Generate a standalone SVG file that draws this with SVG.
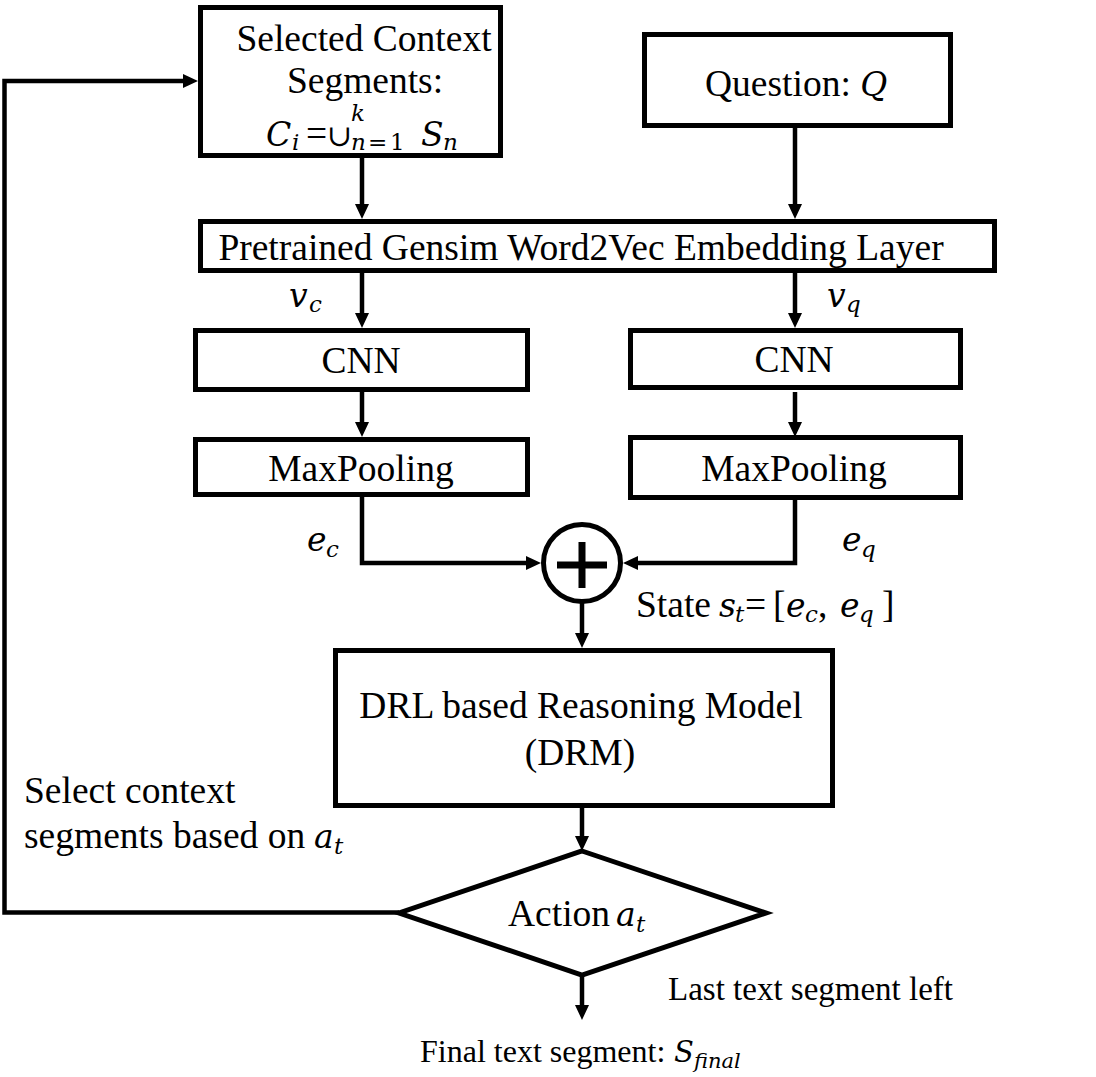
<svg xmlns="http://www.w3.org/2000/svg" width="1096" height="1077" viewBox="0 0 1096 1077">
<defs>
<marker id="ah" markerWidth="16" markerHeight="14" refX="7" refY="7" orient="auto" markerUnits="userSpaceOnUse" viewBox="0 0 16 14">
<path d="M0,0 L15,7 L0,14 z" fill="#000"/>
</marker>
<style>
.box{fill:#fff;stroke:#000;stroke-width:5}
.t{font-family:"Liberation Serif","Times New Roman",serif;font-size:37.5px;fill:#000}
.m{font-family:"DejaVu Serif","Liberation Serif",serif;font-style:italic;font-size:33px}
.s{font-family:"DejaVu Serif","Liberation Serif",serif;font-style:italic;font-size:23px}
.u{font-family:"DejaVu Serif","Liberation Serif",serif;font-size:23px}
.c{stroke:#000;stroke-width:4.5;fill:none}
</style>
</defs>
<rect width="1096" height="1077" fill="#fff"/>
<g id="connectors">
<path class="c" d="M362,158 V211" marker-end="url(#ah)"/>
<path class="c" d="M795,128 V211" marker-end="url(#ah)"/>
<path class="c" d="M362,273 V320" marker-end="url(#ah)"/>
<path class="c" d="M795,273 V320" marker-end="url(#ah)"/>
<path class="c" d="M362,392 V429" marker-end="url(#ah)"/>
<path class="c" d="M795,392 V429" marker-end="url(#ah)"/>
<path class="c" d="M362,497 V563 H533" marker-end="url(#ah)"/>
<path class="c" d="M795,497 V563 H631" marker-end="url(#ah)"/>
<path class="c" d="M582,602 V640" marker-end="url(#ah)"/>
<path class="c" d="M582,808 V843" marker-end="url(#ah)"/>
<path class="c" d="M582,975 V1012" marker-end="url(#ah)"/>
<path class="c" d="M399,912.5 H4.5 V81 H190" marker-end="url(#ah)"/>
</g>
<g id="n-context">
<rect class="box" x="200.5" y="7.5" width="300" height="148"/>
<text class="t" x="364" y="51" text-anchor="middle">Selected Context</text>
<text class="t" x="365" y="93" text-anchor="middle">Segments:</text>
<text class="t" y="146"><tspan class="m" x="266">C</tspan><tspan class="s" x="292" dy="4">i</tspan><tspan x="306" dy="-4">=</tspan><tspan class="u" x="327" style="font-size:30px">∪</tspan><tspan class="s" x="351" y="121">k</tspan><tspan class="s" x="351" y="150">n</tspan><tspan class="u" x="368">=</tspan><tspan class="u" x="390">1</tspan><tspan class="m" x="421" y="146">S</tspan><tspan class="s" x="443" dy="4">n</tspan></text>
</g>
<g id="n-question">
<rect class="box" x="644.5" y="34.5" width="306" height="91"/>
<text class="t" x="705" y="96">Question: <tspan class="m">Q</tspan></text>
</g>
<g id="n-embed">
<rect class="box" x="200.5" y="221.5" width="794" height="49"/>
<text class="t" x="581" y="260" text-anchor="middle">Pretrained Gensim Word2Vec Embedding Layer</text>
</g>
<text class="t" y="307"><tspan class="m" x="289">v</tspan><tspan class="s" x="309" dy="5">c</tspan></text>
<text class="t" y="307"><tspan class="m" x="827">v</tspan><tspan class="s" x="846" dy="5">q</tspan></text>
<g id="n-cnn-c">
<rect class="box" x="195.5" y="330.5" width="332" height="59"/>
<text class="t" x="361" y="373" text-anchor="middle">CNN</text>
</g>
<g id="n-cnn-q">
<rect class="box" x="630.5" y="330.5" width="330" height="57"/>
<text class="t" x="794" y="372" text-anchor="middle">CNN</text>
</g>
<g id="n-pool-c">
<rect class="box" x="195.5" y="439.5" width="332" height="55"/>
<text class="t" x="361" y="481" text-anchor="middle">MaxPooling</text>
</g>
<g id="n-pool-q">
<rect class="box" x="630.5" y="437.5" width="330" height="60"/>
<text class="t" x="794" y="481" text-anchor="middle">MaxPooling</text>
</g>
<text class="t" y="551"><tspan class="m" x="307">e</tspan><tspan class="s" x="326" dy="6">c</tspan></text>
<text class="t" y="551"><tspan class="m" x="842">e</tspan><tspan class="s" x="861" dy="6">q</tspan></text>
<g id="n-sum">
<circle cx="582" cy="563" r="38.5" fill="#fff" stroke="#000" stroke-width="5"/>
<path d="M557,565 H607 M582,542 V588" stroke="#000" stroke-width="7"/>
</g>
<text class="t" y="617"><tspan x="636">State</tspan><tspan class="m" x="719">s</tspan><tspan class="s" x="735" dy="5">t</tspan><tspan x="745" dy="-5">=</tspan><tspan x="773">[</tspan><tspan class="m" x="786">e</tspan><tspan class="s" x="805" dy="5">c</tspan><tspan x="818" dy="-5">,</tspan><tspan class="m" x="840">e</tspan><tspan class="s" x="859" dy="5">q</tspan><tspan x="882" dy="-5">]</tspan></text>
<g id="n-drm">
<rect class="box" x="335.5" y="650.5" width="497" height="155"/>
<text class="t" x="581" y="718" text-anchor="middle">DRL based Reasoning Model</text>
<text class="t" x="580" y="765" text-anchor="middle">(DRM)</text>
</g>
<text class="t" x="24" y="803">Select context</text>
<text class="t" y="848"><tspan x="24">segments based on</tspan><tspan class="m" x="314">a</tspan><tspan class="s" x="334" dy="6">t</tspan></text>
<g id="n-action">
<polygon class="box" points="582,851 766,913 582,975 399,913"/>
<text class="t" y="926"><tspan x="508">Action</tspan><tspan class="m" x="616">a</tspan><tspan class="s" x="636" dy="6">t</tspan></text>
</g>
<text class="t" x="668" y="1000" style="font-size:33px">Last text segment left</text>
<text class="t" y="1062" style="font-size:32px"><tspan x="420">Final text segment:</tspan><tspan class="m" x="674" style="font-size:29px">S</tspan><tspan class="s" x="694" dy="6" style="font-size:21px">final</tspan></text>
</svg>
